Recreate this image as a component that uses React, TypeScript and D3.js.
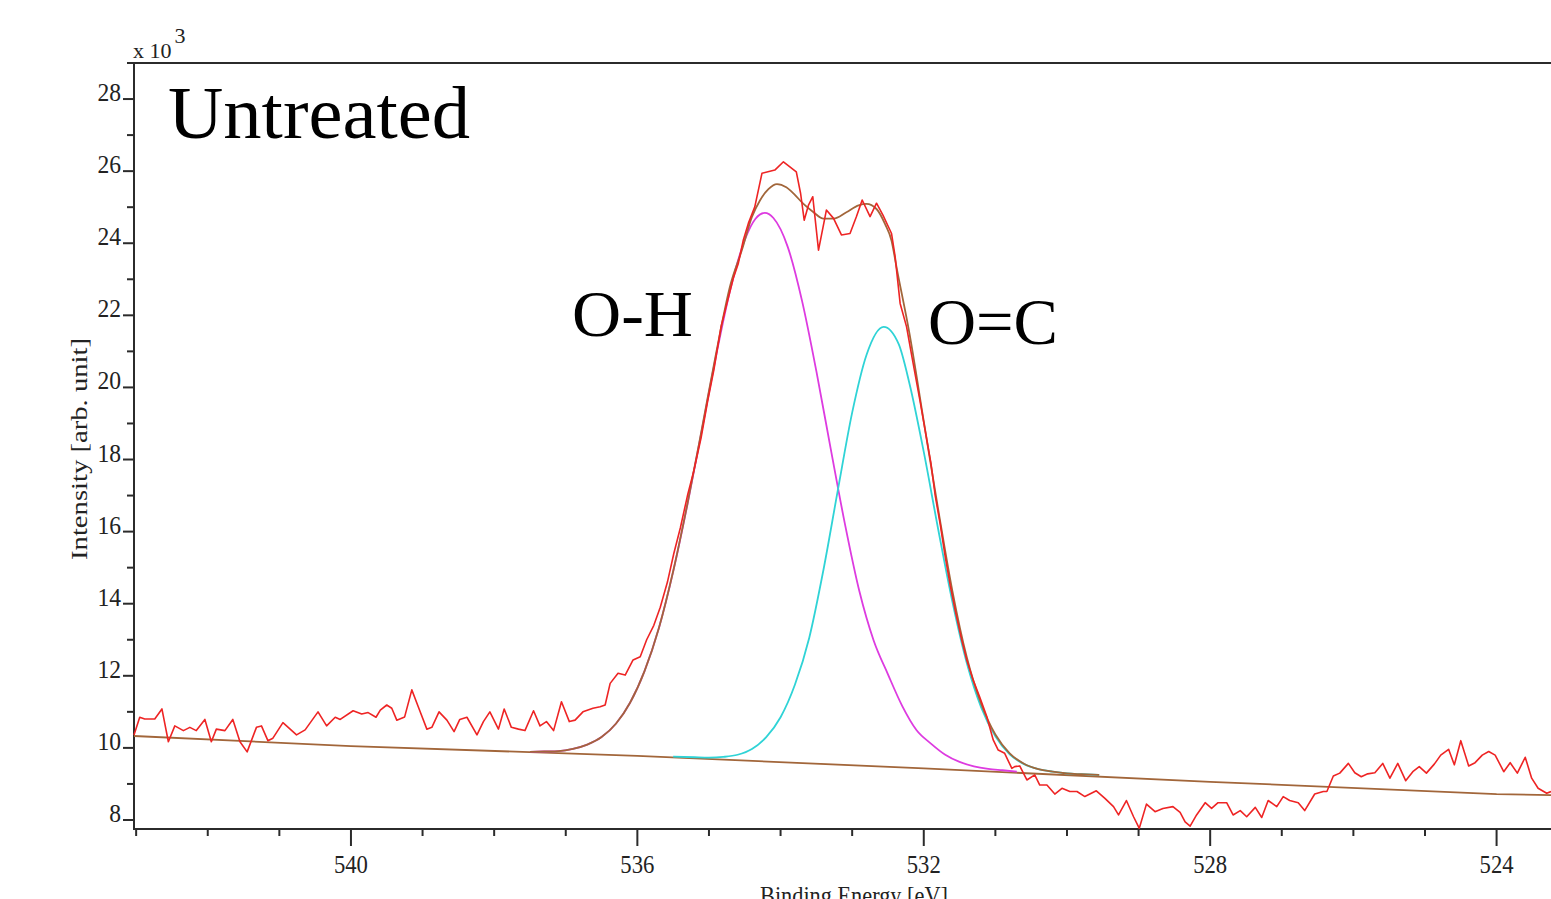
import React from "react";
import * as d3 from "d3";

// ---- data ----
// raw spectrum (red)
const rawE = [543.03,542.95,542.88,542.74,542.64,542.55,542.46,542.34,542.25,542.16,542.04,541.95,541.88,541.76,541.65,541.55,541.45,541.32,541.25,541.16,541.09,540.95,540.76,540.64,540.46,540.34,540.22,540.15,539.97,539.85,539.76,539.65,539.59,
539.50,539.43,539.36,539.25,539.15,539.06,538.94,538.87,538.77,538.66,538.56,538.48,538.38,538.24,538.15,538.06,537.94,537.86,537.76,537.66,537.57,537.45,537.36,537.27,537.17,537.06,536.95,536.87,536.76,536.62,536.52,536.45,536.38,536.27,536.17,536.06,535.96,535.87,
535.77,535.68,535.58,535.49,535.40,535.30,535.21,535.11,535.02,534.93,534.83,534.74,534.66,534.59,534.52,534.45,534.36,534.26,534.08,533.96,533.78,533.72,533.67,533.61,533.55,533.47,533.36,533.26,533.15,533.03,532.94,532.86,532.75,532.66,532.57,532.45,532.40,532.33,532.24,532.17,
532.05,531.98,531.90,531.84,531.77,531.70,531.63,531.56,531.47,531.40,531.31,531.22,531.12,531.03,530.96,530.87,530.77,530.73,530.66,530.56,530.45,530.38,530.28,530.17,530.07,529.96,529.86,529.75,529.59,529.47,529.35,529.28,529.17,529.07,528.99,528.89,528.77,528.66,528.52,
528.42,528.35,528.28,528.19,528.07,527.98,527.89,527.77,527.68,527.58,527.49,527.37,527.28,527.19,527.07,526.98,526.89,526.77,526.68,526.54,526.42,526.37,526.28,526.19,526.07,525.98,525.89,525.80,525.70,525.59,525.49,525.38,525.27,525.17,525.08,524.98,524.87,524.78,524.67,524.59,524.50,524.39,524.30,524.20,524.11,524.02,523.90,523.81,523.71,523.60,523.51,523.42,523.30,523.24];
const rawV = [10.36,10.85,10.80,10.80,11.08,10.17,10.61,10.48,10.57,10.48,10.79,10.17,10.52,10.48,10.79,10.17,9.89,10.57,10.61,10.20,10.27,10.70,10.36,10.50,11.00,10.61,10.85,10.79,11.03,10.94,10.98,10.85,11.05,
11.19,11.10,10.77,10.86,11.61,11.14,10.52,10.57,11.00,10.77,10.45,10.79,10.85,10.36,10.73,11.00,10.52,11.08,10.57,10.52,10.48,11.03,10.61,10.73,10.48,11.28,10.73,10.77,11.00,11.10,11.14,11.19,11.79,12.07,12.02,12.44,12.53,13.00,
13.4,13.9,14.6,15.4,16.1,17.0,17.7,18.6,19.6,20.5,21.7,22.4,23.03,23.44,24.09,24.55,25.01,25.94,26.03,26.26,25.98,25.38,24.64,25.06,25.29,23.81,24.92,24.69,24.23,24.27,24.74,25.20,24.74,25.11,24.78,24.27,23.63,22.33,21.68,20.90,
19.6,18.8,17.9,17.0,16.2,15.3,14.5,13.8,12.99,12.44,11.88,11.42,10.87,10.22,9.94,9.85,9.43,9.48,9.50,9.11,9.25,8.97,8.97,8.72,8.88,8.79,8.79,8.65,8.81,8.60,8.37,8.14,8.54,8.09,7.77,8.44,8.23,8.32,8.37,
8.21,7.95,7.83,8.14,8.48,8.32,8.48,8.48,8.14,8.26,8.09,8.35,8.07,8.54,8.37,8.65,8.54,8.48,8.26,8.72,8.79,8.79,9.22,9.30,9.57,9.31,9.20,9.28,9.31,9.57,9.16,9.57,9.09,9.34,9.48,9.30,9.55,9.80,9.96,9.53,10.20,9.50,9.59,9.80,9.90,9.80,9.34,9.59,9.30,9.74,9.16,8.88,8.74,8.79];

// background (brown)
const bgE = [543.03, 540, 536, 532, 528, 524, 523.24];
const bgV = [10.33, 10.05, 9.78, 9.43, 9.06, 8.72, 8.69];

// O-H component (magenta)
const ohE = [537.5,537.3,537.1,536.9,536.7,536.5,536.3,536.1,535.9,535.7,535.5,535.3,535.1,534.9,534.7,534.5,534.35,534.22,534.1,533.9,533.7,533.5,533.3,533.1,532.9,532.7,532.5,532.3,532.1,531.9,531.7,531.5,531.3,531.1,530.9,530.7];
const ohV = [9.89,9.90,9.91,9.97,10.09,10.30,10.67,11.26,12.13,13.32,14.89,16.76,18.81,20.88,22.73,24.09,24.68,24.84,24.70,23.90,22.40,20.45,18.30,16.20,14.35,12.98,12.04,11.16,10.49,10.12,9.81,9.61,9.49,9.42,9.38,9.34];

// O=C component (cyan)
const ocE = [535.5,535.2,535.0,534.8,534.6,534.4,534.2,534.0,533.8,533.6,533.4,533.2,533.0,532.8,532.56,532.35,532.2,532.0,531.8,531.6,531.4,531.2,531.0,530.8,530.6,530.4,530.2,530.0,529.8,529.55];
const ocV = [9.76,9.74,9.73,9.75,9.81,9.97,10.30,10.85,11.75,13.05,14.95,17.15,19.30,20.90,21.68,21.20,20.11,18.21,16.08,14.05,12.36,11.13,10.32,9.82,9.55,9.41,9.34,9.29,9.27,9.25];

// envelope (brown)
const envE = [537.5,537.3,537.1,536.9,536.7,536.5,536.3,536.1,535.9,535.7,535.5,535.3,535.1,534.9,534.7,534.54,534.40,534.29,534.17,534.05,533.92,533.81,533.68,533.54,533.40,533.26,533.08,532.91,532.80,532.66,532.54,532.45,532.38,532.2,532.0,531.8,531.6,531.4,531.2,531.0,530.8,530.6,530.4,530.2,530.0,529.8,529.55];
const envV = [9.89,9.90,9.91,9.97,10.09,10.30,10.67,11.26,12.13,13.32,14.90,16.78,18.84,20.95,22.85,23.81,24.73,25.18,25.50,25.64,25.55,25.36,25.09,24.86,24.68,24.68,24.86,25.05,25.09,24.95,24.53,24.07,23.33,21.50,19.06,16.63,14.35,12.52,11.23,10.37,9.85,9.56,9.41,9.34,9.29,9.27,9.25];

const xMajor = [540, 536, 532, 528, 524];
const yMajor = [8, 10, 12, 14, 16, 18, 20, 22, 24, 26, 28];

const RED = "#ee2424";
const MAG = "#dd3be0";
const CYAN = "#2fd3d6";
const BROWN = "#a2663a";
const AXIS = "#2b2b2b";

export default function App() {
  const W = 1551, H = 899;
  const x = d3.scaleLinear().domain([543.03, 523.24]).range([134, 1551]);
  const y = d3.scaleLinear().domain([7.75, 29]).range([829, 63]);

  const lin = (E: number[], V: number[]) =>
    d3.line<number>().x((_, i) => x(E[i])).y((_, i) => y(V[i]))(V.map((v) => v)) || "";
  const smooth = (E: number[], V: number[]) =>
    d3
      .line<number>()
      .x((_, i) => x(E[i]))
      .y((_, i) => y(V[i]))
      .curve(d3.curveMonotoneX)(V.map((v) => v)) || "";

  const xMinor = d3.range(543, 523, -1).filter((v) => !xMajor.includes(v));
  const yMinor = d3.range(9, 30, 2);
  const serif = "'Liberation Serif', 'Times New Roman', serif";

  return (
    <svg
      width={W}
      height={H}
      style={{ position: "absolute", left: 0, top: 0, background: "#fff" }}
      fontFamily={serif}
    >
      <rect x={0} y={0} width={W} height={H} fill="#fff" />
      {/* frame */}
      <line x1={134} x2={W} y1={63} y2={63} stroke={AXIS} strokeWidth={2} />
      <line x1={134} x2={134} y1={62} y2={830} stroke={AXIS} strokeWidth={2} />
      <line x1={133} x2={W} y1={829} y2={829} stroke={AXIS} strokeWidth={2} />

      {/* x ticks */}
      {xMajor.map((t) => (
        <g key={"xm" + t}>
          <line x1={x(t)} x2={x(t)} y1={829} y2={846} stroke={AXIS} strokeWidth={2} />
          <text x={x(t)} y={873} textAnchor="middle" fontSize={26} textLength={34} lengthAdjust="spacingAndGlyphs" fill="#222">
            {t}
          </text>
        </g>
      ))}
      {xMinor.map((t) => (
        <line key={"xn" + t} x1={x(t)} x2={x(t)} y1={829} y2={836} stroke={AXIS} strokeWidth={2} />
      ))}

      {/* y ticks */}
      {yMajor.map((t) => (
        <g key={"ym" + t}>
          <line x1={123} x2={134} y1={y(t)} y2={y(t)} stroke={AXIS} strokeWidth={2} />
          <text x={121} y={y(t) + 2} textAnchor="end" fontSize={26} textLength={String(t).length * 11.8} lengthAdjust="spacingAndGlyphs" fill="#222">
            {t}
          </text>
        </g>
      ))}
      {yMinor.map((t) => (
        <line key={"yn" + t} x1={127} x2={134} y1={y(t)} y2={y(t)} stroke={AXIS} strokeWidth={2} />
      ))}

      {/* multiplier */}
      <text x={133} y={58} fontSize={22} fill="#222">
        x 10
        <tspan dx={3} dy={-15} fontSize={22}>3</tspan>
      </text>

      {/* axis titles */}
      <text
        transform="translate(87,449) rotate(-90)"
        textAnchor="middle"
        fontSize={24}
        textLength={222}
        lengthAdjust="spacingAndGlyphs"
        fill="#222"
      >
        Intensity [arb. unit]
      </text>
      <text x={854} y={904} textAnchor="middle" fontSize={26} textLength={188} lengthAdjust="spacingAndGlyphs" fill="#222">
        Binding Energy [eV]
      </text>

      {/* curves */}
      <g fill="none" strokeLinejoin="round">
        <path d={lin(bgE, bgV)} stroke={BROWN} strokeWidth={1.8} />
        <path d={smooth(ohE, ohV)} stroke={MAG} strokeWidth={1.8} />
        <path d={smooth(ocE, ocV)} stroke={CYAN} strokeWidth={1.8} />
        <path d={smooth(envE, envV)} stroke={BROWN} strokeWidth={1.8} />
        <path d={lin(rawE, rawV)} stroke={RED} strokeWidth={1.6} />
      </g>

      {/* annotations */}
      <text x={168} y={138} fontSize={74} textLength={302} lengthAdjust="spacingAndGlyphs" fill="#000">Untreated</text>
      <text x={572} y={336} fontSize={66} textLength={121} lengthAdjust="spacingAndGlyphs" fill="#000">O-H</text>
      <text x={928} y={344} fontSize={66} textLength={130} lengthAdjust="spacingAndGlyphs" fill="#000">O=C</text>
    </svg>
  );
}
